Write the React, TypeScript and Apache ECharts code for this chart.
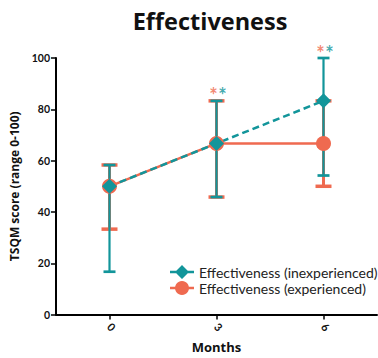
import React, { useEffect, useRef } from "react";
import * as echarts from "echarts";

const months = [0, 3, 6];
const inexpMean = [50, 66.7, 83.3];
const inexpLow = [16.7, 45.8, 54.2];
const inexpHigh = [58.3, 83.3, 100];
const expMean = [50, 66.7, 66.7];
const expLow = [33.3, 45.8, 50];
const expHigh = [58.3, 83.3, 83.3];
const starMonths = [3, 6];
const starLevel = [88.5, 104.5];
const xTicks = [0, 3, 6];

const TEAL = "#12959a";
const CORAL = "#ef6a50";
const FONT = "Lato, 'Noto Sans', sans-serif";
const BOLD = "'Open Sans', Lato, sans-serif";

function errorSeries(name: string, lo: number[], hi: number[], color: string, w: number, cap: number) {
  return {
    type: "custom",
    name,
    data: months.map((m, i) => [m, lo[i], hi[i]]),
    renderItem: (params: any, api: any) => {
      const x = api.value(0);
      const a = api.coord([x, api.value(1)]);
      const b = api.coord([x, api.value(2)]);
      const st = { stroke: color, lineWidth: w };
      return {
        type: "group",
        children: [
          { type: "line", shape: { x1: a[0], y1: a[1], x2: b[0], y2: b[1] }, style: st },
          { type: "line", shape: { x1: a[0] - cap, y1: a[1], x2: a[0] + cap, y2: a[1] }, style: { stroke: color, lineWidth: w + 0.5 } },
          { type: "line", shape: { x1: b[0] - cap, y1: b[1], x2: b[0] + cap, y2: b[1] }, style: { stroke: color, lineWidth: w + 0.5 } },
        ],
      };
    },
    encode: { x: 0, y: [1, 2] },
    clip: false,
    silent: true,
  };
}

function starSeries(color: string, dx: number) {
  return {
    type: "scatter",
    symbolSize: 1,
    clip: false,
    itemStyle: { color: "transparent" },
    data: starMonths.map((m, i) => [m, starLevel[i]]),
    label: {
      show: true,
      position: "inside",
      offset: [dx, 7],
      formatter: "*",
      color,
      fontSize: 20,
      fontWeight: "bold",
      fontFamily: FONT,
    },
    silent: true,
  };
}

export default function App() {
  const ref = useRef<HTMLDivElement>(null);
  useEffect(() => {
    if (!ref.current) return;
    const chart = echarts.init(ref.current, null, { renderer: "svg" });
    chart.setOption({
      animation: false,
      title: {
        text: "Effectiveness",
        left: 205,
        top: 4,
        textAlign: "center",
        textStyle: { fontSize: 23.5, fontWeight: "bold", color: "#111", fontFamily: BOLD },
      },
      legend: {
        orient: "vertical",
        left: 165,
        top: 260,
        itemWidth: 24,
        itemHeight: 14,
        itemGap: 2,
        selectedMode: false,
        textStyle: { fontSize: 14, lineHeight: 14, color: "#222", fontFamily: FONT },
        data: [
          {
            name: "Effectiveness (inexperienced)",
            icon: "path://M0,5.8L24,5.8L24,8.2L0,8.2Z M12,0L19,7L12,14L5,7Z",
            itemStyle: { color: TEAL },
          },
          {
            name: "Effectiveness (experienced)",
            icon: "path://M0,5.8L24,5.8L24,8.2L0,8.2Z M12,0A7,7 0 1 1 11.99,0Z",
            itemStyle: { color: CORAL },
          },
        ],
      },
      grid: { left: 56, right: 1, top: 58, bottom: 28, containLabel: false },
      xAxis: {
        type: "value",
        min: -1.5,
        max: 7.5,
        interval: 1.5,
        name: "Months",
        nameLocation: "middle",
        nameGap: 23,
        nameTextStyle: { fontSize: 13, fontWeight: "bold", color: "#111", fontFamily: BOLD },
        axisLine: { onZero: false, lineStyle: { color: "#000", width: 2 } },
        axisTick: { show: true, length: 5, customValues: xTicks, lineStyle: { color: "#000", width: 1.5 } },
        axisLabel: {
          customValues: xTicks,
          rotate: -45,
          margin: 10,
          fontSize: 11,
          fontWeight: "bold",
          color: "#111",
          fontFamily: FONT,
        },
        splitLine: { show: false },
      },
      yAxis: {
        type: "value",
        min: 0,
        max: 100,
        interval: 20,
        name: "TSQM score (range 0-100)",
        nameLocation: "middle",
        nameGap: 34,
        nameTextStyle: { fontSize: 12, fontWeight: "bold", color: "#111", fontFamily: BOLD },
        axisLine: { show: true, onZero: false, lineStyle: { color: "#000", width: 2 } },
        axisTick: { show: true, length: 5, lineStyle: { color: "#000", width: 1.5 } },
        axisLabel: { fontSize: 10.5, fontWeight: "bold", color: "#111", margin: 6, fontFamily: FONT },
        splitLine: { show: false },
      },
      series: [
        errorSeries("errExp", expLow, expHigh, CORAL, 3, 8),
        {
          type: "line",
          name: "Effectiveness (experienced)",
          data: months.map((m, i) => [m, expMean[i]]),
          symbol: "circle",
          symbolSize: 15,
          lineStyle: { color: CORAL, width: 2.5 },
          itemStyle: { color: CORAL },
          silent: true,
        },
        errorSeries("errInexp", inexpLow, inexpHigh, TEAL, 2.2, 6),
        {
          type: "line",
          name: "Effectiveness (inexperienced)",
          data: months.map((m, i) => [m, inexpMean[i]]),
          symbol: "diamond",
          symbolSize: 15,
          lineStyle: { color: TEAL, width: 2.5, type: [7, 4] },
          itemStyle: { color: TEAL },
          silent: true,
        },
        starSeries(CORAL, -3),
        starSeries(TEAL, 6),
      ],
    });
    return () => chart.dispose();
  }, []);
  return <div ref={ref} style={{ position: "absolute", left: 0, top: 0, width: 378, height: 358 }} />;
}
